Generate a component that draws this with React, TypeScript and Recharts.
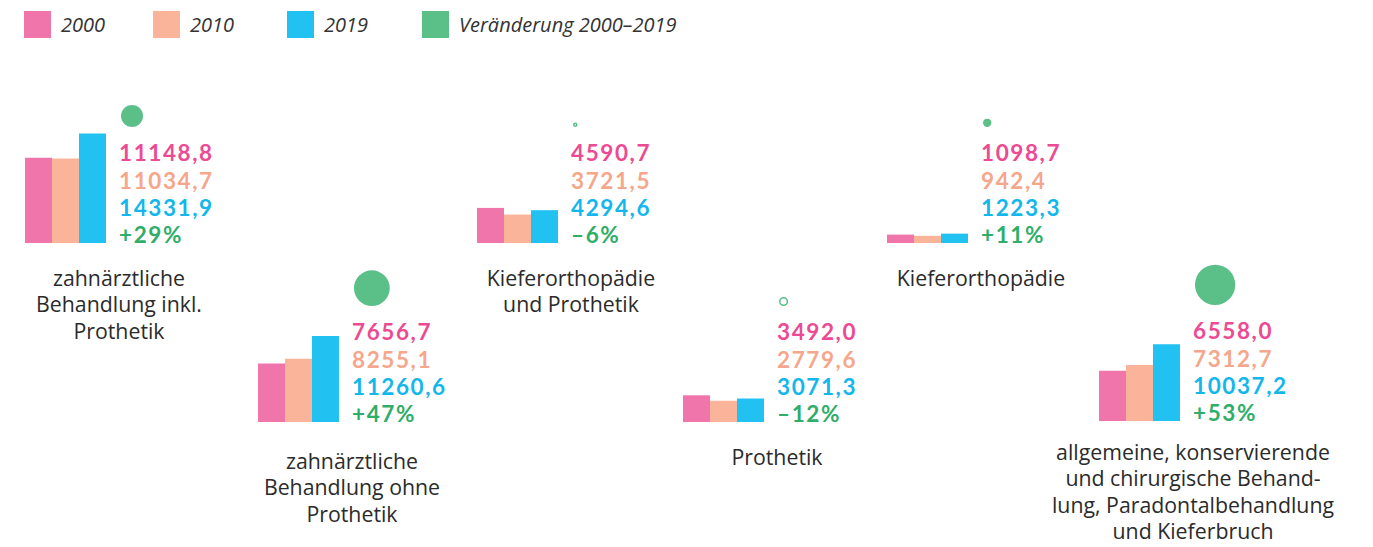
import React from 'react';
import { BarChart, Bar, XAxis, YAxis } from 'recharts';

// Data
const categories = [
  ['zahnärztliche', 'Behandlung inkl.', 'Prothetik'],
  ['zahnärztliche', 'Behandlung ohne', 'Prothetik'],
  ['Kieferorthopädie', 'und Prothetik'],
  ['Prothetik'],
  ['Kieferorthopädie'],
  ['allgemeine, konservierende', 'und chirurgische Behand-', 'lung, Paradontalbehandlung', 'und Kieferbruch'],
];
const values2000 = [11148.8, 7656.7, 4590.7, 3492.0, 1098.7, 6558.0];
const values2010 = [11034.7, 8255.1, 3721.5, 2779.6, 942.4, 7312.7];
const values2019 = [14331.9, 11260.6, 4294.6, 3071.3, 1223.3, 10037.2];
const change = [29, 47, -6, -12, 11, 53];
const legendLabels = ['2000', '2010', '2019', 'Veränderung 2000–2019'];

const COLORS = ['#F075AB', '#F9B49A', '#21C1F1', '#5BBF88'];
const TEXT_COLORS = ['#EC4A92', '#F6A68A', '#14B7EC', '#2FAE69'];

// panel placement (bars left edge, baseline, label offset)
const panelLeft = [25, 258, 477, 683, 887, 1099];
const panelBase = [243, 422, 243, 422, 243, 421];
const labelOffset = [35, 39, 35, 35, 35, 31];

const CHART_H = 130;
const BAR_W = 81;
const fmt = (v: number) => v.toFixed(1).replace('.', ',');
const fmtPct = (p: number) => (p >= 0 ? '+' : '–') + Math.abs(p) + '%';

const Panel = ({ i }: { i: number }) => {
  const left = panelLeft[i];
  const base = panelBase[i];
  const textX = left + 94;
  const data = [{ name: 'x', a: values2000[i], b: values2010[i], c: values2019[i] }];
  const r = Math.abs(change[i]) * 0.38;
  const neg = change[i] < 0;
  const lines = [fmt(values2000[i]), fmt(values2010[i]), fmt(values2019[i]), fmtPct(change[i])];
  const lh = 27.3;
  return (
    <>
      <div style={{ position: 'absolute', left, top: base - CHART_H }}>
        <BarChart width={BAR_W} height={CHART_H} data={data} margin={{ top: 0, right: 0, left: 0, bottom: 0 }} barGap={0} barCategoryGap={0}>
          <XAxis dataKey="name" hide />
          <YAxis hide domain={[0, 17000]} />
          <Bar dataKey="a" fill={COLORS[0]} isAnimationActive={false} />
          <Bar dataKey="b" fill={COLORS[1]} isAnimationActive={false} />
          <Bar dataKey="c" fill={COLORS[2]} isAnimationActive={false} />
        </BarChart>
      </div>
      <svg style={{ position: 'absolute', left: textX - 2, top: base - 160 }} width={50} height={50}>
        <circle
          cx={4 + r}
          cy={44 - r}
          r={neg ? r - 0.75 : r}
          fill={neg ? 'none' : COLORS[3]}
          stroke={neg ? COLORS[3] : 'none'}
          strokeWidth={1.5}
        />
      </svg>
      <div
        style={{
          position: 'absolute', left: textX, top: base - 90 - lh / 2,
          fontFamily: 'Lato, sans-serif', fontWeight: 700, fontSize: 22.5,
          letterSpacing: 1.6, lineHeight: `${lh}px`, whiteSpace: 'nowrap',
        }}
      >
        {lines.map((t, k) => (
          <div key={k} style={{ color: TEXT_COLORS[k] }}>{t}</div>
        ))}
      </div>
      <div
        style={{
          position: 'absolute', left: textX - 170, width: 340, top: base + labelOffset[i] - 13.25,
          textAlign: 'center', fontFamily: '"Open Sans", sans-serif', fontSize: 21.3,
          lineHeight: '26.5px', color: '#2b2b2b',
        }}
      >
        {categories[i].map((t, k) => <div key={k}>{t}</div>)}
      </div>
    </>
  );
};

const legendX = [24, 153, 287, 422];

export default function App() {
  return (
    <div style={{ position: 'relative', width: 1373, height: 547, margin: -8, background: '#fff', overflow: 'hidden' }}>
      {legendLabels.map((l, k) => (
        <div key={k} style={{ position: 'absolute', left: legendX[k], top: 11, display: 'flex', alignItems: 'center' }}>
          <div style={{ width: 27, height: 27, background: COLORS[k] }} />
          <span style={{ marginLeft: 10, fontFamily: '"Open Sans", sans-serif', fontStyle: 'italic', fontSize: 20, color: '#333' }}>{l}</span>
        </div>
      ))}
      {categories.map((_, i) => <Panel key={i} i={i} />)}
    </div>
  );
}
